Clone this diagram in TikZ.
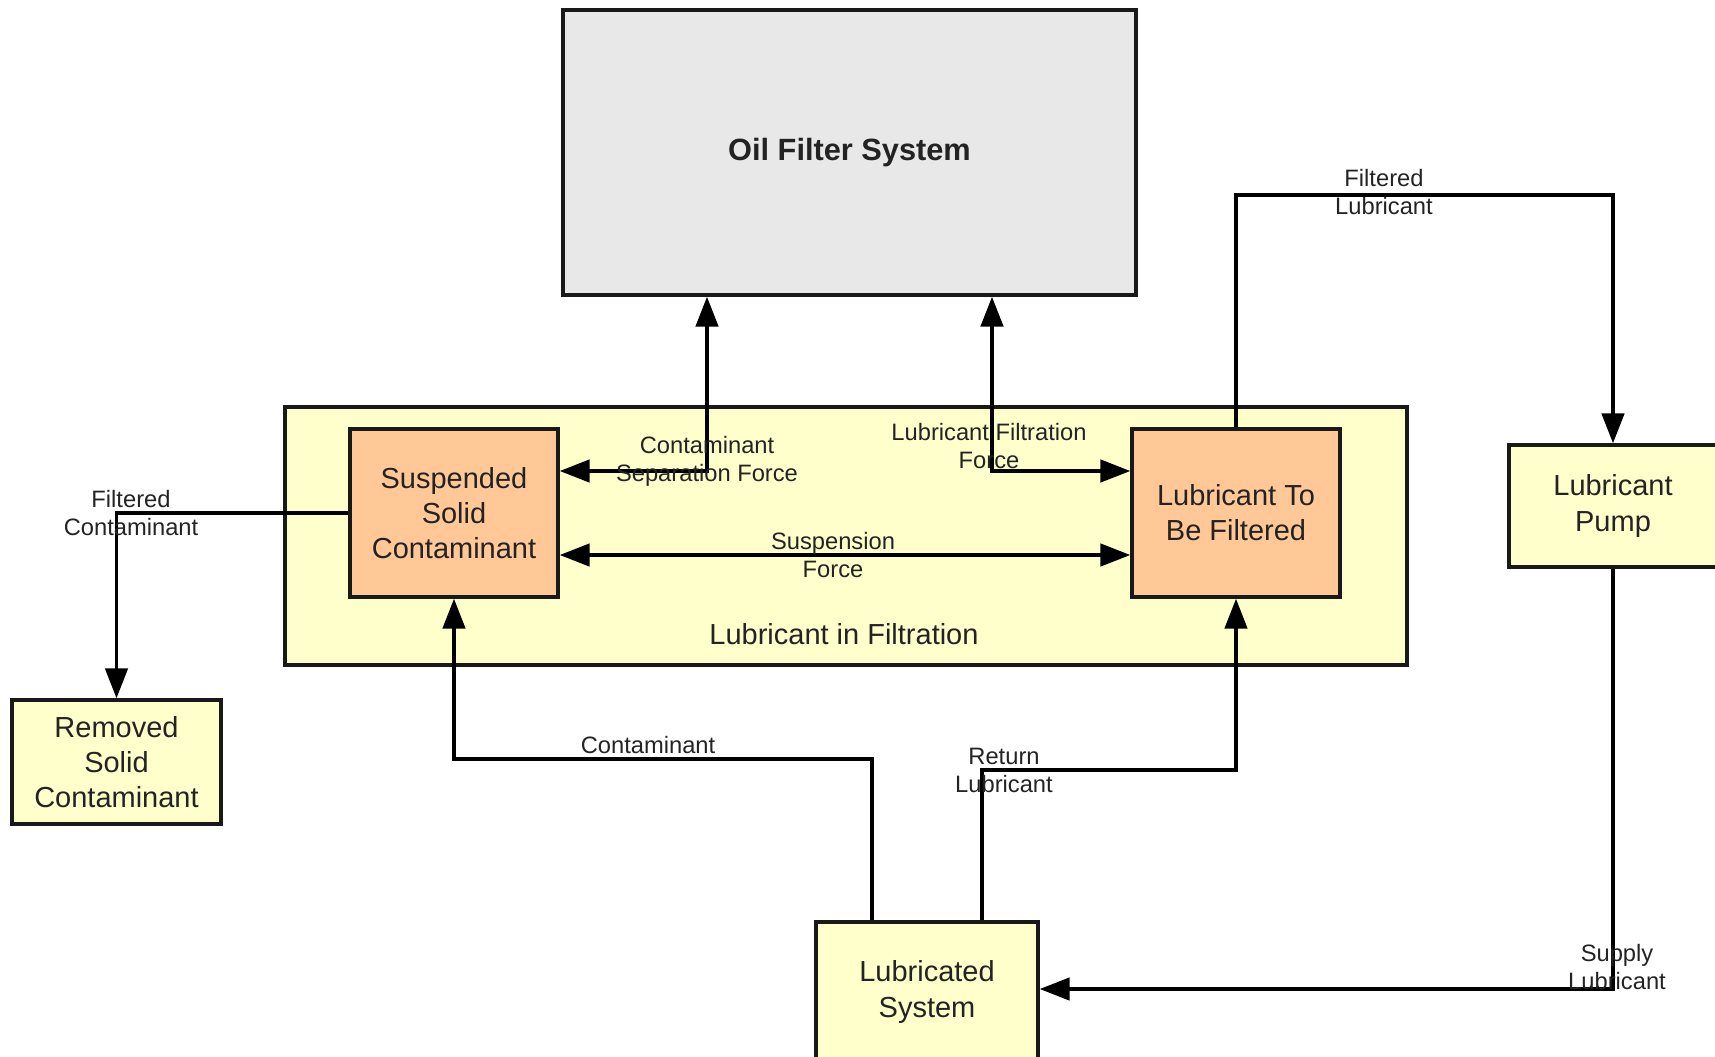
\documentclass[tikz,border=0pt]{standalone}
\usepackage{fontspec}
\setmainfont{Liberation Sans}
\usetikzlibrary{positioning,arrows.meta}
\definecolor{boxyellow}{RGB}{255,255,204}
\definecolor{boxorange}{RGB}{255,200,150}
\definecolor{boxgray}{RGB}{232,232,232}
\definecolor{txtgray}{RGB}{35,35,35}
\tikzset{
	block/.style={draw=black!90,line width=2pt,fill=boxyellow,align=center,text=txtgray,
		font=\fontsize{16.5}{20}\selectfont,inner sep=0pt},
	subblock/.style={block,fill=boxorange,minimum width=4.16cm,minimum height=3.36cm},
	flow/.style={line width=1.9pt,-{Triangle[length=0.6cm,width=0.45cm]}},
	twoway/.style={flow,{Triangle[length=0.6cm,width=0.45cm]}-{Triangle[length=0.6cm,width=0.45cm]}},
	lbl/.style={align=center,text=txtgray,font=\fontsize{13.5}{16}\selectfont,inner sep=0pt}
}
\begin{document}
\begin{tikzpicture}[x=0.02cm,y=-0.02cm]
		\useasboundingbox (0,0) rectangle (1715,1056);
		\clip (0,0) rectangle (1715,1056);
		% boxes
		\node (oil) [block,fill=boxgray,minimum width=11.46cm,minimum height=5.7cm,
			font=\fontsize{17.5}{21}\selectfont\bfseries] at (849.5,152.5) {Oil Filter System};
		\node (filt) [block,minimum width=22.44cm,minimum height=5.16cm] at (846,536) {};
		\node (filtname) [lbl,font=\fontsize{16.5}{20}\selectfont] at (844,634) {Lubricant in Filtration};
		\node (ssc) [subblock] at (454,513) {Suspended\\Solid\\Contaminant};
		\node (ltbf) [subblock] at (1236,513) {Lubricant To\\Be Filtered};
		\node (pump) [block,minimum width=4.16cm,minimum height=2.44cm] at (1613,506) {Lubricant\\Pump};
		\node (removed) [block,minimum width=4.18cm,minimum height=2.48cm] at (116.5,762) {Removed\\Solid\\Contaminant};
		\node (lubsys) [block,minimum width=4.44cm,minimum height=2.8cm] at (927,992) {Lubricated\\System};
		% forces inside the filtration box
		\coordinate (sepc) at (707,471);
		\draw[twoway] (ssc.east |- sepc) -- (sepc) -- (oil.south -| sepc);
		\node (seplbl) [lbl] at (707,461) {Contaminant\\Separation Force};
		\coordinate (filc) at (992,471);
		\draw[twoway] (oil.south -| filc) -- (filc) -- (ltbf.west |- filc);
		\node (fillbl) [lbl] at (989,446) {Lubricant Filtration\\Force};
		\coordinate (susc) at (833,555);
		\draw[twoway] (ssc.east |- susc) -- (ltbf.west |- susc);
		\node (suslbl) [lbl] at (833,555) {Suspension\\Force};
		% flows
		\draw[flow] (ssc.west) -| (removed.north);
		\node (fclbl) [lbl] at (131,513) {Filtered\\Contaminant};
		\coordinate (contc) at (872,759);
		\draw[flow] (lubsys.north -| contc) -- (contc) -| (ssc.south);
		\node (contlbl) [lbl] at (648,745) {Contaminant};
		\coordinate (retc) at (982,770);
		\draw[flow] (lubsys.north -| retc) -- (retc) -| (ltbf.south);
		\node (retlbl) [lbl] at (1004,770) {Return\\Lubricant};
		\coordinate (flc) at (1613,195);
		\draw[flow] (ltbf.north) |- (flc) -- (pump.north);
		\node (fllbl) [lbl] at (1384,192) {Filtered\\Lubricant};
		\draw[flow] (pump.south) |- (lubsys.east |- 0,989);
		\node (suplbl) [lbl] at (1617,967) {Supply\\Lubricant};
	\end{tikzpicture}
\end{document}
